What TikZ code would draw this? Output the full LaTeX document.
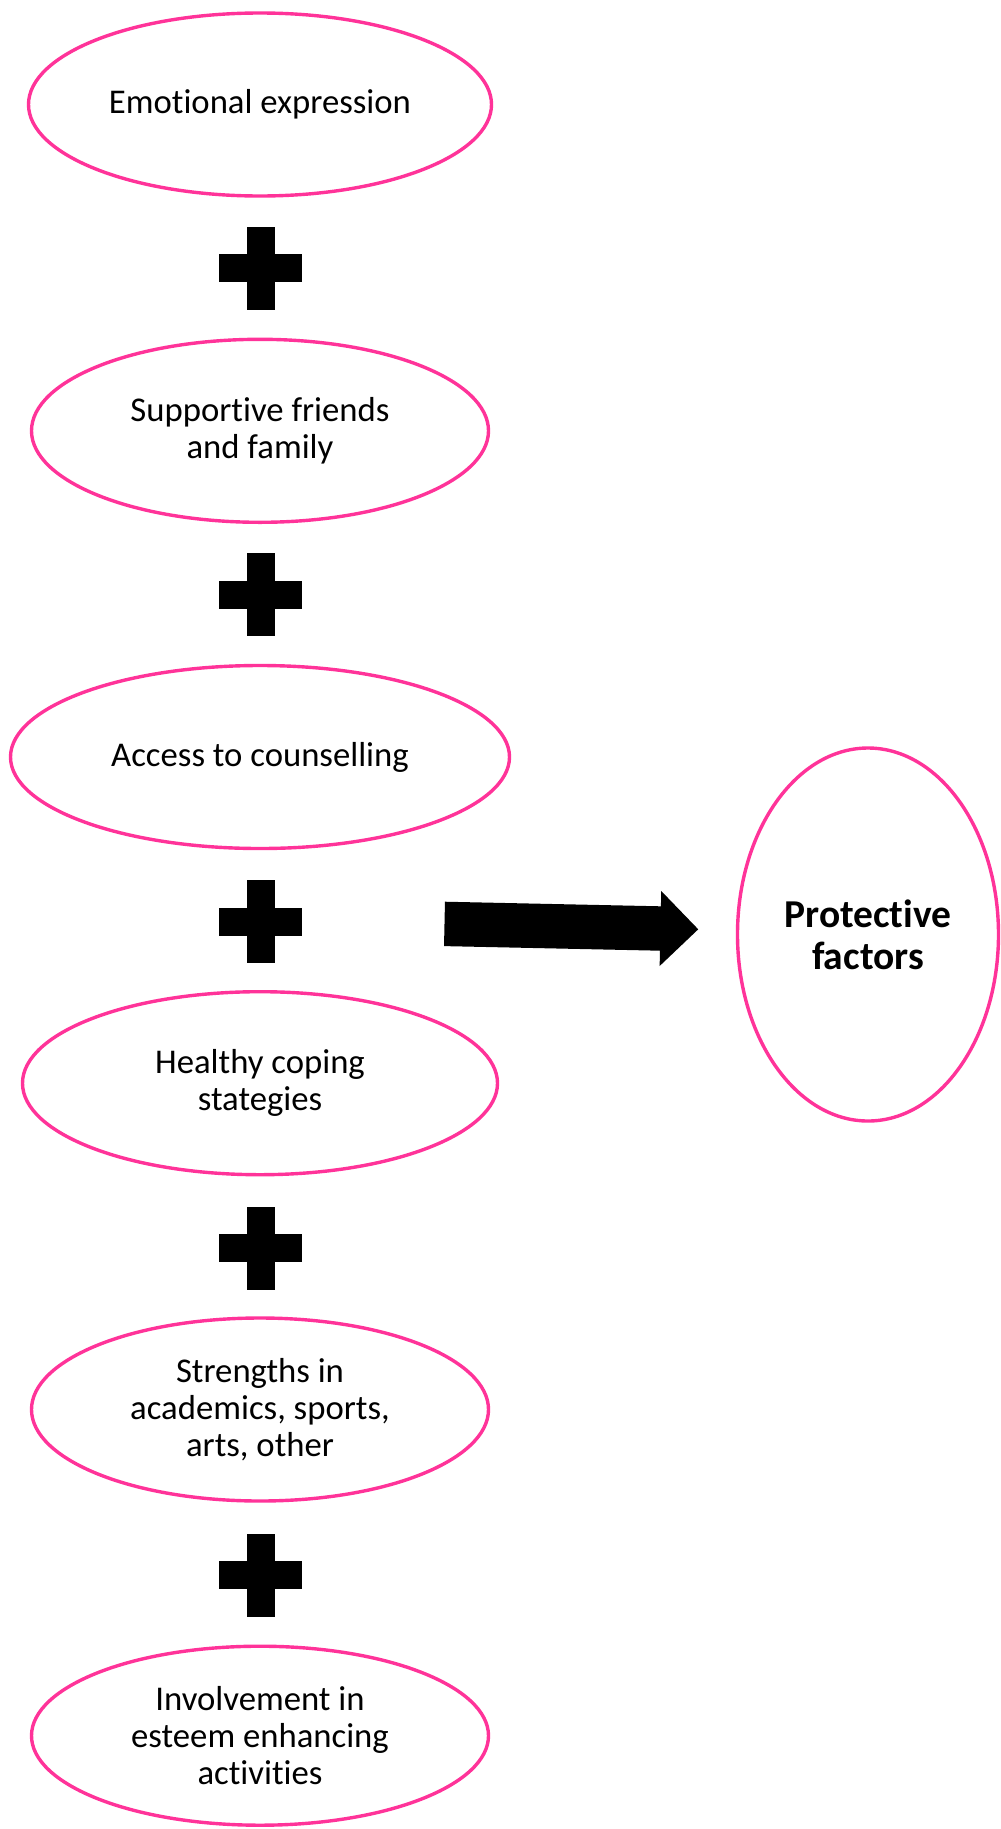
\documentclass[tikz,border=0pt]{standalone}
\usepackage{fontspec}
\setmainfont{Carlito}[Ligatures=NoCommon]
\usetikzlibrary{shapes.geometric}
\definecolor{rim}{HTML}{FF3399}
\begin{document}
\begin{tikzpicture}[x=1pt,y=-1pt,
  factor/.style={ellipse, draw=rim, line width=3.4pt, inner sep=0pt, align=center,
    font=\fontsize{34.7}{36.7}\selectfont},
  outcome/.style={factor, font=\bfseries\fontsize{39.5}{41.7}\selectfont},
  plussign/.pic={
    \fill[black] (-14,-41.5) rectangle (14,41.5);
    \fill[black] (-41.5,-14) rectangle (41.5,14);
  },
  blockarrow/.style={fill=black}]
\useasboundingbox (0,0) rectangle (1001,1829);

% the stack of contributing factors
\node[factor, minimum width=463pt, minimum height=183pt] (e1) at (260,104.5) {Emotional expression};
\node[factor, minimum width=457pt, minimum height=183pt] (e2) at (260,430.8) {Supportive friends\\and family};
\node[factor, minimum width=499pt, minimum height=183pt] (e3) at (260,757) {Access to counselling};
\node[factor, minimum width=475pt, minimum height=183pt] (e4) at (260,1083.2) {Healthy coping\\stategies};
\node[factor, minimum width=457pt, minimum height=183pt] (e5) at (260,1409.5) {Strengths in\\academics, sports,\\arts, other};
\node[factor, minimum width=457pt, minimum height=179pt] (e6) at (260,1735.7) {Involvement in\\esteem enhancing\\activities};

% plus signs between the factors
\pic (p1) at (260.5,268) {plussign};
\pic (p2) at (260.5,594.8) {plussign};
\pic (p3) at (260.5,921.5) {plussign};
\pic (p4) at (260.5,1248.2) {plussign};
\pic (p5) at (260.5,1575) {plussign};

% result
\node[outcome, minimum width=261pt, minimum height=373pt] (pf) at (868,934.5) {Protective\\factors};

% block arrow towards the result
\coordinate (arrtail) at (444.5,923.9);
\begin{scope}[shift={(arrtail)}, rotate=-1.22]
  \fill[blockarrow] (0,-22.2) -- (216,-22.2) -- (216,-37.5) -- (253.8,0)
    -- (216,37.5) -- (216,22.2) -- (0,22.2) -- cycle;
\end{scope}
\end{tikzpicture}
\end{document}
